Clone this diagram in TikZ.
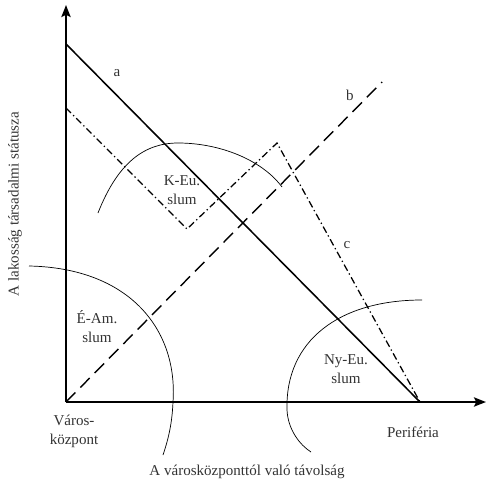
\documentclass[tikz,border=0pt]{standalone}
\usepackage{fontspec}
\setmainfont{Liberation Serif}
\usetikzlibrary{positioning, calc, arrows.meta}

\tikzset{
  axisline/.style={line width=1.7pt, -{Stealth[length=8.5pt,width=6.5pt,inset=1.5pt]}},
  lineA/.style={line width=1.1pt},
  lineB/.style={line width=1pt, dash pattern=on 9.5pt off 5pt},
  lineC/.style={line width=0.9pt, dash pattern=on 5pt off 2.2pt on 0.9pt off 2.2pt},
  slumcurve/.style={line width=0.5pt},
  lbl/.style={font=\fontsize{10.7}{13.5}\selectfont, text=black!80, align=center, inner sep=0pt}
}

\begin{document}
\begin{tikzpicture}[x=0.025cm, y=-0.025cm]
\useasboundingbox (0,0) rectangle (486,479);

\coordinate (O)    at (66,402);
\coordinate (ytip) at (66,5);
\coordinate (xtip) at (486,402);

\coordinate (aTop) at (66,44);
\coordinate (aEnd) at (420,402);
\coordinate (bTop) at (382,82);
\coordinate (cTop) at (66,108);
\coordinate (cLow) at (187,229);
\coordinate (cPeak) at (277,143);

% axes
\draw[axisline] (O) -- (ytip);
\draw[axisline] (O) -- (xtip);

% the three status lines
\draw[lineA] (aTop) -- (aEnd);
\draw[lineB] (O) -- (bTop);
\draw[lineC] (cTop) -- (cLow) -- (cPeak) -- (aEnd);

% slum zones
\draw[slumcurve] (98,213) .. controls (118,162) and (145,143) .. (178,143)
                          .. controls (220,143) and (262,160) .. (282,187);
\draw[slumcurve] (29,266) .. controls (130,268) and (178,330) .. (173,402)
                          .. controls (172,425) and (168,440) .. (163,455);
\draw[slumcurve] (422,300) .. controls (340,300) and (285,340) .. (287,410)
                           .. controls (288,430) and (300,445) .. (311,452);

\node[lbl] (labA) at (117,73) {a};
\node[lbl] (labB) at (350,95) {b};
\node[lbl] (labC) at (347,245) {c};

\node[lbl] (keSlum) at (182,190) {K-Eu.\\slum};
\node[lbl] (eaSlum) at (97,327)  {É-Am.\\slum};
\node[lbl] (nySlum) at (346,369) {Ny-Eu.\\slum};

\node[lbl] (center) at (74,431)  {Város-\\központ};
\node[lbl] (perif)  at (413,432) {Periféria};
\node[lbl] (xlabel) at (247,472) {A városközponttól való távolság};
\node[lbl, rotate=90] (ylabel) at (15,204) {A lakosság társadalmi státusza};

\end{tikzpicture}
\end{document}
